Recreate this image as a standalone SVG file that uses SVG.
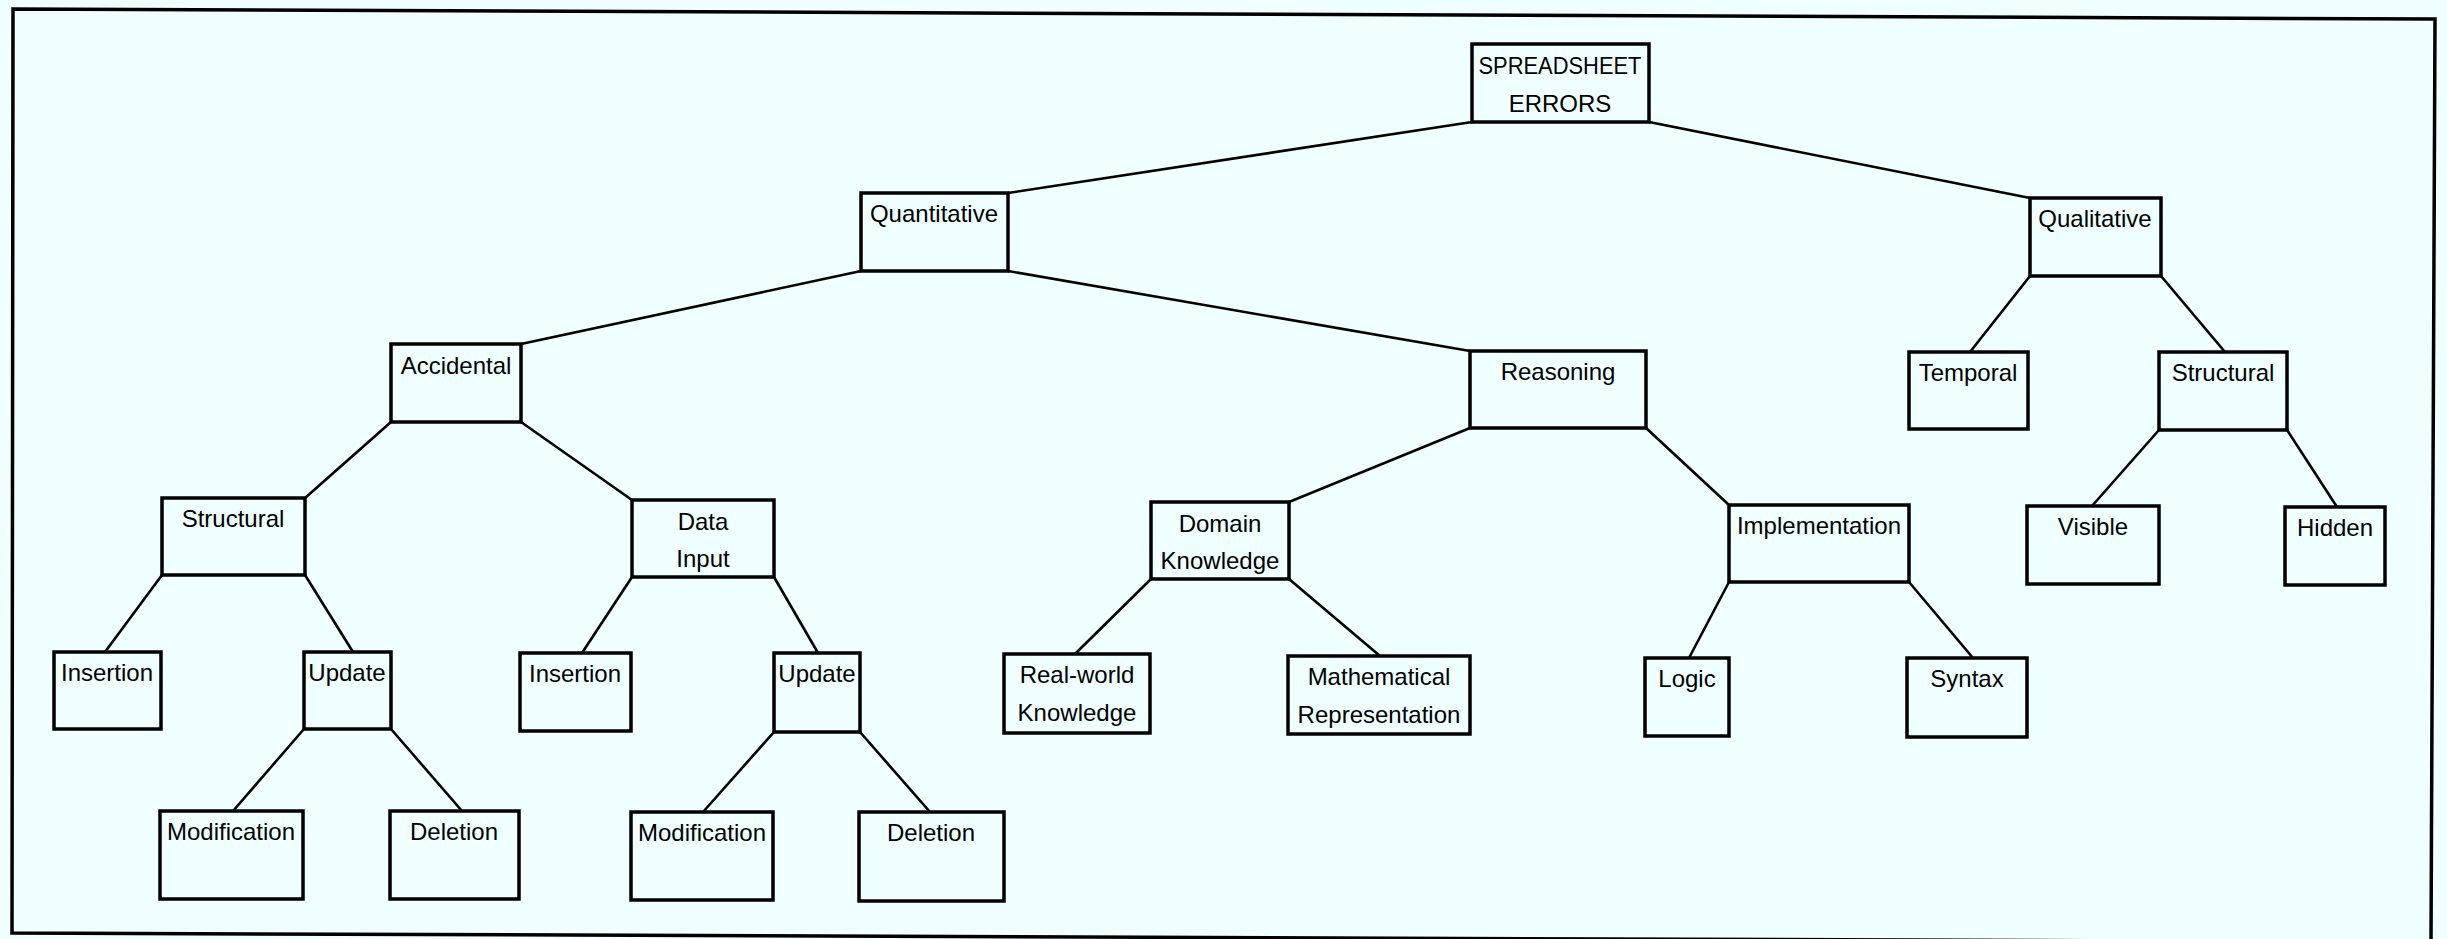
<svg xmlns="http://www.w3.org/2000/svg" width="2447" height="939" viewBox="0 0 2447 939">
<style>
.bg{fill:#F0FFFF}
.frame{fill:none;stroke:#000;stroke-width:3.5}
.box{fill:none;stroke:#000;stroke-width:3.5}
.edge{stroke:#000;stroke-width:2.6;fill:none}
text{font-family:"Liberation Sans",Arial,sans-serif;font-size:24px;fill:#000;text-anchor:middle}
</style>
<rect class="bg" x="0" y="0" width="2447" height="939"/>
<polygon class="frame" points="13,9 2435,19 2431,942 12,933"/>
<g id="connectors">
<line class="edge" x1="1472" y1="122" x2="1008" y2="193"/>
<line class="edge" x1="1649" y1="122" x2="2030" y2="198"/>
<line class="edge" x1="861" y1="271" x2="521" y2="344"/>
<line class="edge" x1="1008" y1="271" x2="1470" y2="351"/>
<line class="edge" x1="2030" y1="276" x2="1970" y2="352"/>
<line class="edge" x1="2161" y1="276" x2="2225" y2="352"/>
<line class="edge" x1="391" y1="422" x2="305" y2="498"/>
<line class="edge" x1="521" y1="422" x2="632" y2="500"/>
<line class="edge" x1="1470" y1="428" x2="1289" y2="502"/>
<line class="edge" x1="1646" y1="428" x2="1729" y2="505"/>
<line class="edge" x1="2159" y1="430" x2="2092" y2="506"/>
<line class="edge" x1="2287" y1="430" x2="2337" y2="507"/>
<line class="edge" x1="162" y1="575" x2="105" y2="652"/>
<line class="edge" x1="305" y1="575" x2="353" y2="652"/>
<line class="edge" x1="632" y1="577" x2="582" y2="653"/>
<line class="edge" x1="774" y1="577" x2="818" y2="653"/>
<line class="edge" x1="1151" y1="579" x2="1075" y2="654"/>
<line class="edge" x1="1289" y1="579" x2="1380" y2="656"/>
<line class="edge" x1="1729" y1="582" x2="1689" y2="658"/>
<line class="edge" x1="1909" y1="582" x2="1973" y2="658"/>
<line class="edge" x1="304" y1="729" x2="233" y2="811"/>
<line class="edge" x1="391" y1="729" x2="462" y2="811"/>
<line class="edge" x1="774" y1="732" x2="703" y2="812"/>
<line class="edge" x1="860" y1="732" x2="930" y2="812"/>
</g>
<g id="n-root"><rect class="box" x="1472" y="44" width="177" height="78"/><text x="1560" y="74" textLength="163" lengthAdjust="spacingAndGlyphs">SPREADSHEET</text><text x="1560" y="112">ERRORS</text></g>
<g id="n-quantitative"><rect class="box" x="861" y="193" width="147" height="78"/><text x="934" y="222">Quantitative</text></g>
<g id="n-qualitative"><rect class="box" x="2030" y="198" width="131" height="78"/><text x="2095" y="227">Qualitative</text></g>
<g id="n-accidental"><rect class="box" x="391" y="344" width="130" height="78"/><text x="456" y="374">Accidental</text></g>
<g id="n-reasoning"><rect class="box" x="1470" y="351" width="176" height="77"/><text x="1558" y="380">Reasoning</text></g>
<g id="n-temporal"><rect class="box" x="1909" y="352" width="119" height="77"/><text x="1968" y="381">Temporal</text></g>
<g id="n-structural-q"><rect class="box" x="2159" y="352" width="128" height="78"/><text x="2223" y="381">Structural</text></g>
<g id="n-structural-a"><rect class="box" x="162" y="498" width="143" height="77"/><text x="233" y="527">Structural</text></g>
<g id="n-datainput"><rect class="box" x="632" y="500" width="142" height="77"/><text x="703" y="530">Data</text><text x="703" y="567">Input</text></g>
<g id="n-domain"><rect class="box" x="1151" y="502" width="138" height="77"/><text x="1220" y="532">Domain</text><text x="1220" y="569">Knowledge</text></g>
<g id="n-implementation"><rect class="box" x="1729" y="505" width="180" height="77"/><text x="1819" y="534">Implementation</text></g>
<g id="n-visible"><rect class="box" x="2027" y="506" width="132" height="78"/><text x="2093" y="535">Visible</text></g>
<g id="n-hidden"><rect class="box" x="2285" y="507" width="100" height="78"/><text x="2335" y="536">Hidden</text></g>
<g id="n-insertion-s"><rect class="box" x="54" y="652" width="107" height="77"/><text x="107" y="681">Insertion</text></g>
<g id="n-update-s"><rect class="box" x="304" y="652" width="87" height="77"/><text x="347" y="681">Update</text></g>
<g id="n-insertion-d"><rect class="box" x="520" y="653" width="111" height="78"/><text x="575" y="682">Insertion</text></g>
<g id="n-update-d"><rect class="box" x="774" y="653" width="86" height="79"/><text x="817" y="682">Update</text></g>
<g id="n-realworld"><rect class="box" x="1004" y="654" width="146" height="79"/><text x="1077" y="683">Real-world</text><text x="1077" y="721">Knowledge</text></g>
<g id="n-mathematical"><rect class="box" x="1288" y="656" width="182" height="78"/><text x="1379" y="685">Mathematical</text><text x="1379" y="723">Representation</text></g>
<g id="n-logic"><rect class="box" x="1645" y="658" width="84" height="78"/><text x="1687" y="687">Logic</text></g>
<g id="n-syntax"><rect class="box" x="1907" y="658" width="120" height="79"/><text x="1967" y="687">Syntax</text></g>
<g id="n-modification-s"><rect class="box" x="160" y="811" width="143" height="88"/><text x="231" y="840">Modification</text></g>
<g id="n-deletion-s"><rect class="box" x="390" y="811" width="129" height="88"/><text x="454" y="840">Deletion</text></g>
<g id="n-modification-d"><rect class="box" x="631" y="812" width="142" height="88"/><text x="702" y="841">Modification</text></g>
<g id="n-deletion-d"><rect class="box" x="859" y="812" width="145" height="89"/><text x="931" y="841">Deletion</text></g>
</svg>
